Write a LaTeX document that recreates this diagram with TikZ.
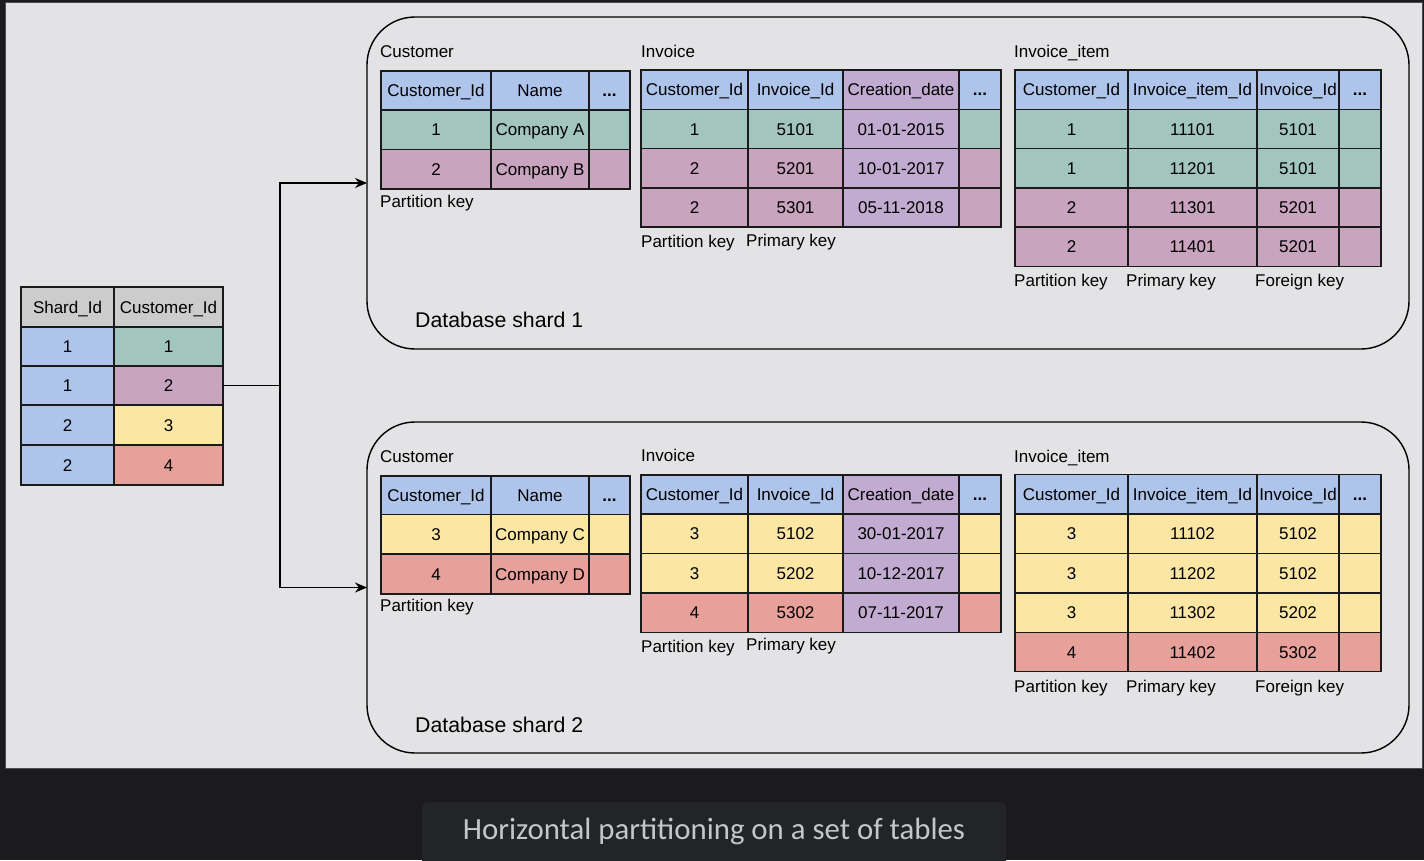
\documentclass[tikz,border=0pt]{standalone}
\usepackage{fontspec}
\setmainfont{Liberation Sans}
\newfontfamily\capfont{Carlito}
\usetikzlibrary{arrows.meta}
\definecolor{bgdark}{HTML}{1B1B1D}
\definecolor{panelc}{HTML}{E3E3E5}
\definecolor{capbox}{HTML}{232428}
\definecolor{capt}{HTML}{C5C6C8}
\definecolor{linec}{HTML}{1A1A1A}
\definecolor{bl}{HTML}{AEC4EA}
\definecolor{gn}{HTML}{A2C6BD}
\definecolor{mv}{HTML}{C9A4BE}
\definecolor{yl}{HTML}{FCE6A3}
\definecolor{rd}{HTML}{E8A09B}
\definecolor{pu}{HTML}{C2ABD0}
\definecolor{gr}{HTML}{CCCCCC}
\tikzset{
  cell/.style={draw=linec, line width=1.4pt, inner sep=0pt, outer sep=0pt,
    font=\fontsize{17}{20}\selectfont, text height=12.2pt, text depth=0pt},
  lbl/.style={anchor=west, inner sep=0pt, font=\fontsize{17}{20}\selectfont,
    text height=12.2pt, text depth=0pt},
  title/.style={anchor=west, inner sep=0pt, font=\fontsize{21.3}{25}\selectfont,
    text height=15.3pt, text depth=0pt},
  shard/.style={draw=black, line width=1.4pt, rounded corners=48pt, inner sep=0pt,
    outer sep=0pt, minimum width=1042pt},
  conn/.style={draw=black, line width=1.4pt},
  arr/.style={conn, -{Stealth[length=12pt,width=10pt]}}
}
\newcommand\tabrow[4]{%
  \foreach \xa/\xb/\fc/\tx [count=\ci] in {#4}{%
    \node[cell, fill=\fc, minimum width={(\xb-\xa)*1pt}, minimum height={(#3-#2)*1pt}]
      (#1-\ci) at ({(\xa+\xb)/2},{(#2+#3)/2}) {\tx};}}
\begin{document}
\begin{tikzpicture}[x=1pt,y=-1pt]
\useasboundingbox (0,0) rectangle (1424,860);
\fill[bgdark] (0,0) rectangle (1424,860);
\filldraw[fill=panelc, draw=black!70, line width=0.8pt] (5,2) rectangle (1422,768);
% caption
\fill[capbox, rounded corners=6pt] (422,870) -- (422,802) -- (1006,802) -- (1006,870);
\node[font=\capfont\fontsize{30.8}{34}\selectfont, text=capt, inner sep=0pt] (cap) at (714,831) {Horizontal partitioning on a set of tables};

% shard boxes
\node[shard, minimum height=332pt] (sh1) at (888,183) {};
\node[shard, minimum height=331pt] (sh2) at (888,587.5) {};
\node[title] (sh1t) at (415,320) {Database shard 1};
\node[title] (sh2t) at (415,725) {Database shard 2};

% left mapping table
\tabrow{lth}{287}{327}{21/114/gr/Shard\_Id, 114/223/gr/Customer\_Id}
\tabrow{lt1}{327}{366}{21/114/bl/1, 114/223/gn/1}
\tabrow{lt2}{366}{405}{21/114/bl/1, 114/223/mv/2}
\tabrow{lt3}{405}{445}{21/114/bl/2, 114/223/yl/3}
\tabrow{lt4}{445}{485}{21/114/bl/2, 114/223/rd/4}

% ---------- shard 1 ----------
\node[lbl] (l1a) at (380,51) {Customer};
\node[lbl] (l1b) at (641,51) {Invoice};
\node[lbl] (l1c) at (1014,51) {Invoice\_item};
\tabrow{s1ah}{71}{110}{381/491/bl/Customer\_Id, 491/589/bl/Name, 589/630/bl/\textbf{...}}
\tabrow{s1a1}{110}{149.5}{381/491/gn/1, 491/589/gn/Company A, 589/630/gn/{}}
\tabrow{s1a2}{149.5}{189}{381/491/mv/2, 491/589/mv/Company B, 589/630/mv/{}}
\node[lbl] (k1a) at (380,201) {Partition key};

\tabrow{s1bh}{70}{109.5}{641/748/bl/Customer\_Id, 748/843/bl/Invoice\_Id, 843/959/pu/Creation\_date, 959/1001/bl/\textbf{...}}
\tabrow{s1b1}{109.5}{148.5}{641/748/gn/1, 748/843/gn/5101, 843/959/pu/01-01-2015, 959/1001/gn/{}}
\tabrow{s1b2}{148.5}{188}{641/748/mv/2, 748/843/mv/5201, 843/959/pu/10-01-2017, 959/1001/mv/{}}
\tabrow{s1b3}{188}{227}{641/748/mv/2, 748/843/mv/5301, 843/959/pu/05-11-2018, 959/1001/mv/{}}
\node[lbl] (k1b) at (641,241) {Partition key};
\node[lbl] (k1c) at (746,240) {Primary key};

\tabrow{s1ch}{70}{109.5}{1015/1128/bl/Customer\_Id, 1128/1257/bl/Invoice\_item\_Id, 1257/1339/bl/Invoice\_Id, 1339/1381/bl/\textbf{...}}
\tabrow{s1c1}{109.5}{148.5}{1015/1128/gn/1, 1128/1257/gn/11101, 1257/1339/gn/5101, 1339/1381/gn/{}}
\tabrow{s1c2}{148.5}{188}{1015/1128/gn/1, 1128/1257/gn/11201, 1257/1339/gn/5101, 1339/1381/gn/{}}
\tabrow{s1c3}{188}{227}{1015/1128/mv/2, 1128/1257/mv/11301, 1257/1339/mv/5201, 1339/1381/mv/{}}
\tabrow{s1c4}{227}{266.5}{1015/1128/mv/2, 1128/1257/mv/11401, 1257/1339/mv/5201, 1339/1381/mv/{}}
\node[lbl] (k1d) at (1014,280) {Partition key};
\node[lbl] (k1e) at (1126,280) {Primary key};
\node[lbl] (k1f) at (1255,280) {Foreign key};

% ---------- shard 2 ----------
\node[lbl] (l2a) at (380,456) {Customer};
\node[lbl] (l2b) at (641,455) {Invoice};
\node[lbl] (l2c) at (1014,456) {Invoice\_item};
\tabrow{s2ah}{476}{514.5}{381/491/bl/Customer\_Id, 491/589/bl/Name, 589/630/bl/\textbf{...}}
\tabrow{s2a1}{514.5}{554}{381/491/yl/3, 491/589/yl/Company C, 589/630/yl/{}}
\tabrow{s2a2}{554}{594}{381/491/rd/4, 491/589/rd/Company D, 589/630/rd/{}}
\node[lbl] (k2a) at (380,605) {Partition key};

\tabrow{s2bh}{475}{514}{641/748/bl/Customer\_Id, 748/843/bl/Invoice\_Id, 843/959/pu/Creation\_date, 959/1001/bl/\textbf{...}}
\tabrow{s2b1}{514}{553.5}{641/748/yl/3, 748/843/yl/5102, 843/959/pu/30-01-2017, 959/1001/yl/{}}
\tabrow{s2b2}{553.5}{593}{641/748/yl/3, 748/843/yl/5202, 843/959/pu/10-12-2017, 959/1001/yl/{}}
\tabrow{s2b3}{593}{632.5}{641/748/rd/4, 748/843/rd/5302, 843/959/pu/07-11-2017, 959/1001/rd/{}}
\node[lbl] (k2b) at (641,646) {Partition key};
\node[lbl] (k2c) at (746,644) {Primary key};

\tabrow{s2ch}{474.5}{514}{1015/1128/bl/Customer\_Id, 1128/1257/bl/Invoice\_item\_Id, 1257/1339/bl/Invoice\_Id, 1339/1381/bl/\textbf{...}}
\tabrow{s2c1}{514}{553.5}{1015/1128/yl/3, 1128/1257/yl/11102, 1257/1339/yl/5102, 1339/1381/yl/{}}
\tabrow{s2c2}{553.5}{593}{1015/1128/yl/3, 1128/1257/yl/11202, 1257/1339/yl/5102, 1339/1381/yl/{}}
\tabrow{s2c3}{593}{632.5}{1015/1128/yl/3, 1128/1257/yl/11302, 1257/1339/yl/5202, 1339/1381/yl/{}}
\tabrow{s2c4}{632.5}{671.5}{1015/1128/rd/4, 1128/1257/rd/11402, 1257/1339/rd/5302, 1339/1381/rd/{}}
\node[lbl] (k2d) at (1014,686) {Partition key};
\node[lbl] (k2e) at (1126,686) {Primary key};
\node[lbl] (k2f) at (1255,686) {Foreign key};

% connectors
\coordinate (jn) at ([xshift=57pt]lt2-2.east);
\draw[conn] (lt2-2.east) -- (jn);
\draw[arr] (jn) |- (sh1.west);
\draw[arr] (jn) |- (sh2.west);
\end{tikzpicture}
\end{document}
